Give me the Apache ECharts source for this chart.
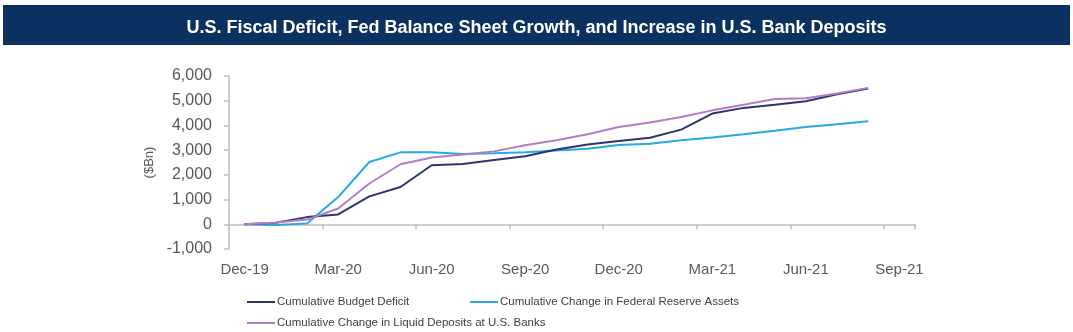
<!DOCTYPE html>
<html>
<head>
<meta charset="utf-8">
<script src="https://cdn.jsdelivr.net/npm/echarts@6/dist/echarts.min.js"></script>
<style>
html,body{margin:0;padding:0;background:#fff;}
#c{width:1073px;height:332px;}
</style>
</head>
<body>
<div id="c"></div>
<script>
const months = ['Dec-19','Jan-20','Feb-20','Mar-20','Apr-20','May-20','Jun-20','Jul-20','Aug-20','Sep-20','Oct-20','Nov-20','Dec-20','Jan-21','Feb-21','Mar-21','Apr-21','May-21','Jun-21','Jul-21','Aug-21','Sep-21'];
const budgetDeficit = [0, 60, 290, 400, 1130, 1510, 2390, 2440, 2600, 2750, 3030, 3230, 3370, 3500, 3830, 4480, 4710, 4840, 4980, 5260, 5490];
const fedAssets = [0, -30, 30, 1100, 2520, 2910, 2910, 2840, 2870, 2910, 2990, 3060, 3210, 3260, 3400, 3510, 3640, 3780, 3940, 4050, 4170];
const liquidDeposits = [0, 70, 190, 640, 1650, 2430, 2700, 2820, 2950, 3200, 3400, 3640, 3940, 4120, 4340, 4610, 4840, 5070, 5100, 5290, 5520];
const seriesNames = ['Cumulative Budget Deficit','Cumulative Change in Federal Reserve Assets','Cumulative Change in Liquid Deposits at U.S. Banks'];
const colors = ['#2E3470','#27A9E1','#B47CC7'];
const titleText = 'U.S. Fiscal Deficit, Fed Balance Sheet Growth, and Increase in U.S. Bank Deposits';

const chart = echarts.init(document.getElementById('c'), null, {renderer:'canvas'});
const font = 'Liberation Sans, Arial, sans-serif';
const legendBase = {
  orient:'horizontal', itemWidth:28, itemHeight:10, itemGap:4, padding:0, icon:'path://M0,0L28,0L28,2L0,2Z',
  textStyle:{fontFamily:font, fontSize:11.5, color:'#404040', padding:[0,0,0,-3]}
};
chart.setOption({
  animation:false,
  textStyle:{fontFamily:font},
  graphic:[{type:'rect', shape:{x:3,y:5,width:1067,height:40}, style:{fill:'#0B3160'}, z:0}],
  title:{text:titleText, left:'center', top:14, textStyle:{color:'#fff', fontFamily:font, fontWeight:'bold', fontSize:18}, z:5},
  grid:{left:229, right:158, top:76, bottom:83, containLabel:false},
  legend:[
    Object.assign({}, legendBase, {data:[seriesNames[0]], left:247, top:296}),
    Object.assign({}, legendBase, {data:[seriesNames[1]], left:470, top:296}),
    Object.assign({}, legendBase, {data:[seriesNames[2]], left:247, top:317})
  ],
  xAxis:{
    type:'category', data:months, boundaryGap:true,
    axisLine:{onZero:true, lineStyle:{color:'#BFBFBF', width:1.5}},
    axisTick:{show:true, interval:(i) => i % 3 === 0, length:5, lineStyle:{color:'#BFBFBF', width:1.5}},
    axisLabel:{interval:2, margin:13, color:'#595959', fontSize:15, fontFamily:font},
    splitLine:{show:false}
  },
  yAxis:{
    type:'value', min:-1000, max:6000, interval:1000,
    name:'($Bn)', nameLocation:'middle', nameGap:72, nameRotate:90,
    nameTextStyle:{color:'#595959', fontSize:13, fontFamily:font},
    axisLine:{show:true, lineStyle:{color:'#BFBFBF', width:1.5}},
    axisTick:{show:true, length:5, lineStyle:{color:'#BFBFBF', width:1.5}},
    axisLabel:{margin:17, color:'#595959', fontSize:16, fontFamily:font,
      formatter: v => v.toLocaleString('en-US')},
    splitLine:{show:false}
  },
  series:[
    {name:seriesNames[0], type:'line', data:budgetDeficit, symbol:'none', lineStyle:{color:colors[0], width:2}, itemStyle:{color:colors[0]}, z:3},
    {name:seriesNames[1], type:'line', data:fedAssets, symbol:'none', lineStyle:{color:colors[1], width:2}, itemStyle:{color:colors[1]}, z:2},
    {name:seriesNames[2], type:'line', data:liquidDeposits, symbol:'none', lineStyle:{color:colors[2], width:2}, itemStyle:{color:colors[2]}, z:4}
  ]
});
</script>
</body>
</html>
